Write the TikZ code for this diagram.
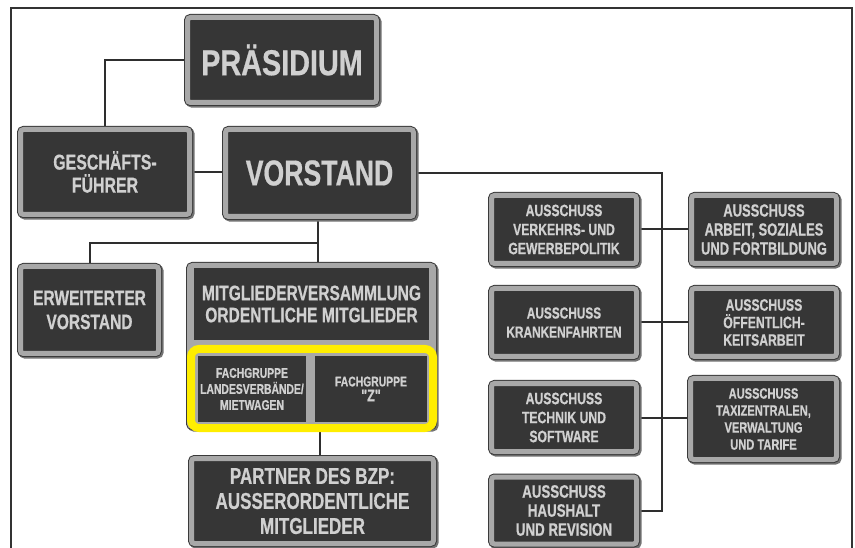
\documentclass[tikz,border=0pt]{standalone}
\usepackage{fontspec}
\usetikzlibrary{backgrounds}
\newfontfamily\bx{Liberation Sans Bold}[FakeStretch=0.8,FakeBold=0.6]
\newfontfamily\bxn{Liberation Sans Bold}[FakeStretch=0.74,FakeBold=0.6]
\definecolor{innerdark}{HTML}{363636}
\definecolor{bordergray}{HTML}{A8A8A8}
\definecolor{textgray}{HTML}{D0D0D0}
\definecolor{outl}{HTML}{3A3A3A}
\definecolor{linec}{HTML}{2E2E2E}
\definecolor{yel}{HTML}{FFEE00}
\tikzset{
  orgbox/.style={draw=bordergray, line width=5pt, fill=innerdark, rounded corners=3pt,
    text=textgray, align=center, inner sep=0pt,
    preaction={draw=black!55, fill=black!55, line width=7pt, transform canvas={shift={(1.6pt,-1.6pt)}}},
    preaction={draw=outl, line width=7pt}},
  graybox/.style={orgbox, fill=bordergray},
  cell/.style={fill=innerdark, draw=none, text=textgray, align=center, inner sep=0pt},
  yelbox/.style={draw=yel, line width=8pt, rounded corners=8pt, fill=none, inner sep=0pt},
  conn/.style={draw=linec, line width=2pt},
  fs/.style={font={\bxn\fontsize{#1}{19}\selectfont}},
}
\begin{document}
\begin{tikzpicture}[x=1pt,y=-1pt]
\useasboundingbox (0,0) rectangle (855,548);
\draw[black!80, line width=1.2pt] (11,552) -- (11,8) -- (852,8) -- (852,552);

\coordinate (spine) at (662,0);
\coordinate (j1) at (318,243);
\coordinate (j2) at (320,0);

\path
  node[orgbox, font={\bx\fontsize{36}{40}\selectfont}, minimum width=189, minimum height=85] (pras) at (282,60) {PRÄSIDIUM}
  node[orgbox, font={\bxn\fontsize{21.5}{23}\selectfont}, minimum width=169, minimum height=85] (gf) at (105,172) {GESCHÄFTS-\\FÜHRER}
  node[orgbox, font={\bxn\fontsize{36}{40}\selectfont}, minimum width=188, minimum height=87] (vor) at (319.5,173) {VORSTAND}
  node[orgbox, font={\bxn\fontsize{21}{24}\selectfont}, minimum width=138, minimum height=87] (erw) at (89.5,310) {ERWEITERTER\\VORSTAND}
  node[graybox, minimum width=244, minimum height=161] (mit) at (311.5,346) {}
  node[orgbox, font={\bxn\fontsize{23}{25}\selectfont}, minimum width=242, minimum height=85] (part) at (312.5,501) {PARTNER DES BZP:\\AUSSERORDENTLICHE\\MITGLIEDER}
  node[orgbox, fs=16.5, minimum width=145, minimum height=68] (verk) at (564,229.5) {AUSSCHUSS\\VERKEHRS- UND\\GEWERBEPOLITIK}
  node[orgbox, fs=17.5, minimum width=145, minimum height=68] (arb) at (764,229.5) {AUSSCHUSS\\ARBEIT, SOZIALES\\UND FORTBILDUNG}
  node[orgbox, fs=16, minimum width=145, minimum height=68] (kran) at (564,322.5) {AUSSCHUSS\\KRANKENFAHRTEN}
  node[orgbox, font={\bxn\fontsize{16.5}{17.5}\selectfont}, minimum width=145, minimum height=68] (oeff) at (764,322.5) {AUSSCHUSS\\ÖFFENTLICH-\\KEITSARBEIT}
  node[orgbox, fs=16.5, minimum width=145, minimum height=68] (tech) at (564,417.5) {AUSSCHUSS\\TECHNIK UND\\SOFTWARE}
  node[orgbox, font={\bxn\fontsize{15}{17}\selectfont}, minimum width=146, minimum height=81] (taxi) at (763.5,419) {AUSSCHUSS\\TAXIZENTRALEN,\\VERWALTUNG\\UND TARIFE}
  node[orgbox, fs=18, minimum width=145, minimum height=67] (haus) at (564,510.5) {AUSSCHUSS\\HAUSHALT\\UND REVISION};

% contents of the Mitgliederversammlung box
\node[cell, font={\bxn\fontsize{21}{22}\selectfont}, minimum width=235, minimum height=72] (mittop) at (311.5,304) {MITGLIEDERVERSAMMLUNG\\ORDENTLICHE MITGLIEDER};
\node[cell, font={\bxn\fontsize{14}{16}\selectfont}, minimum width=108, minimum height=66] (fg1) at (252,389) {FACHGRUPPE\\LANDESVERBÄNDE/\\MIETWAGEN};
\node[cell, minimum width=112, minimum height=66] (fg2) at (371,389) {{\bxn\fontsize{14}{16}\selectfont FACHGRUPPE}\\[3pt]{\bxn\fontsize{17}{18}\selectfont "Z"}};
\node[yelbox, minimum width=242, minimum height=79] (yb) at (312,388.5) {};

\begin{scope}[on background layer]
  \fill[white] (0,0) rectangle (855,548);
  \draw[conn] (pras.west) -| (gf.north);
  \draw[conn] (gf.east) -- (gf.east -| vor.west);
  \draw[conn] (vor.east) -- (vor.east -| spine) -- (spine |- haus.east) -- (haus.east);
  \draw[conn] (verk.east) -- (arb.west);
  \draw[conn] (kran.east) -- (oeff.west);
  \draw[conn] (tech.east) -- (tech.east -| taxi.west);
  \draw[conn] (vor.south -| j1) -- (j1) -| (erw.north);
  \draw[conn] (j1) -- (j1 |- mit.north);
  \draw[conn] (j2 |- mit.south) -- (j2 |- part.north);
\end{scope}
\end{tikzpicture}
\end{document}
